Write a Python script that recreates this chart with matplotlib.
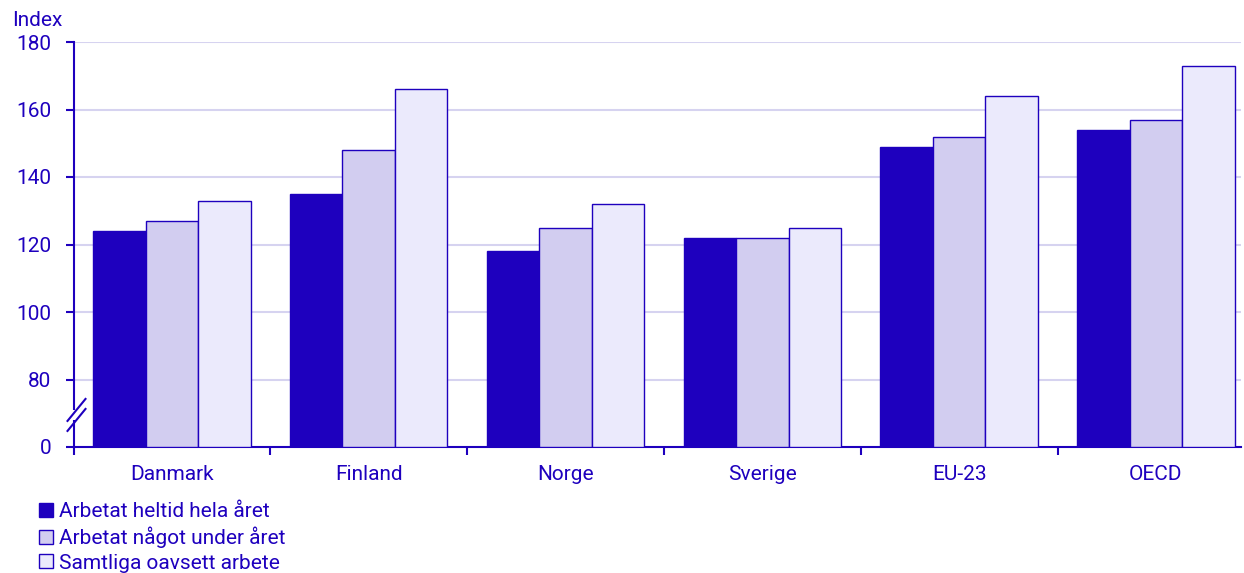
import matplotlib.pyplot as plt
import numpy as np

plt.rcParams['font.family'] = ['Roboto', 'DejaVu Sans']

categories = ['Danmark', 'Finland', 'Norge', 'Sverige', 'EU-23', 'OECD']
series_names = ['Arbetat heltid hela året', 'Arbetat något under året', 'Samtliga oavsett arbete']
heltid = [124, 135, 118, 122, 149, 154]
nagot = [127, 148, 125, 122, 152, 157]
samtliga = [133, 166, 132, 125, 164, 173]
yticks = [60, 80, 100, 120, 140, 160, 180]
ytick_labels = ['0', '80', '100', '120', '140', '160', '180']

dark = '#1E00BE'
colors = ['#1E00BE', '#D2CDF0', '#EBEAFC']
grid_c = '#D6D3F0'
base = 60

fig = plt.figure(figsize=(12.44, 5.73), dpi=100)
ax_w = 1167
ax = fig.add_axes([73.5 / 1244, 1 - 447 / 573, ax_w / 1244, 405 / 573])

x = np.arange(len(categories))
w = 0.2665
for i, vals in enumerate([heltid, nagot, samtliga]):
    v = np.array(vals)
    ax.bar(x + (i - 1) * w, v - base, width=w, bottom=base, color=colors[i],
           edgecolor=dark, linewidth=1, label=series_names[i], zorder=3)

ax.set_yticks(yticks)
ax.set_yticklabels(ytick_labels)
for t in yticks[1:]:
    ax.axhline(t, color=grid_c, linewidth=1.5, zorder=1)

ax.set_xticks(np.arange(-0.5, len(categories)), minor=False)
ax.set_xticklabels([])
ax.set_xticks(x, minor=True)
ax.set_xticklabels(categories, minor=True)
ax.tick_params(axis='x', which='major', length=6, width=1.5, color=dark)
ax.tick_params(axis='x', which='minor', length=0, pad=13, labelsize=15, labelcolor=dark)
ax.tick_params(axis='y', length=6, width=1.5, color=dark, labelsize=15, labelcolor=dark, pad=10)

# limits after the ticks, so the ticks do not widen them
ax.set_xlim(-0.5, -0.5 + ax_w / 196.8)
ax.set_ylim(base, 180)

for s in ['top', 'right']:
    ax.spines[s].set_visible(False)
ax.spines['left'].set_color(dark)
ax.spines['left'].set_linewidth(1.5)
ax.spines['bottom'].set_color(dark)
ax.spines['bottom'].set_linewidth(1.5)

# axis break marks
yb = (69.5 - base) / (180 - base)
px = 1 / ax_w
py = 1 / 405
ax.plot([0, 0], [yb - 5 * py, yb + 5 * py], transform=ax.transAxes, color='white',
        linewidth=4, clip_on=False, zorder=5, solid_capstyle='butt')
for d in [-5, 5]:
    ax.plot([-6 * px, 12 * px], [yb + (d - 11) * py, yb + (d + 11) * py], transform=ax.transAxes,
            color=dark, linewidth=1.5, clip_on=False, zorder=6)

fig.text(12 / 1244, 1 - 20 / 573, 'Index', color=dark, fontsize=15, va='center')

handles, labels = ax.get_legend_handles_labels()
fig.legend(handles, labels, loc='upper left', bbox_to_anchor=(39 / 1244, 1 - 502 / 573),
           frameon=False, fontsize=15, labelcolor=dark, handlelength=0.65, handleheight=0.65,
           handletextpad=0.3, labelspacing=0.27, borderaxespad=0, borderpad=0)

fig.savefig('out.png', dpi=100)
